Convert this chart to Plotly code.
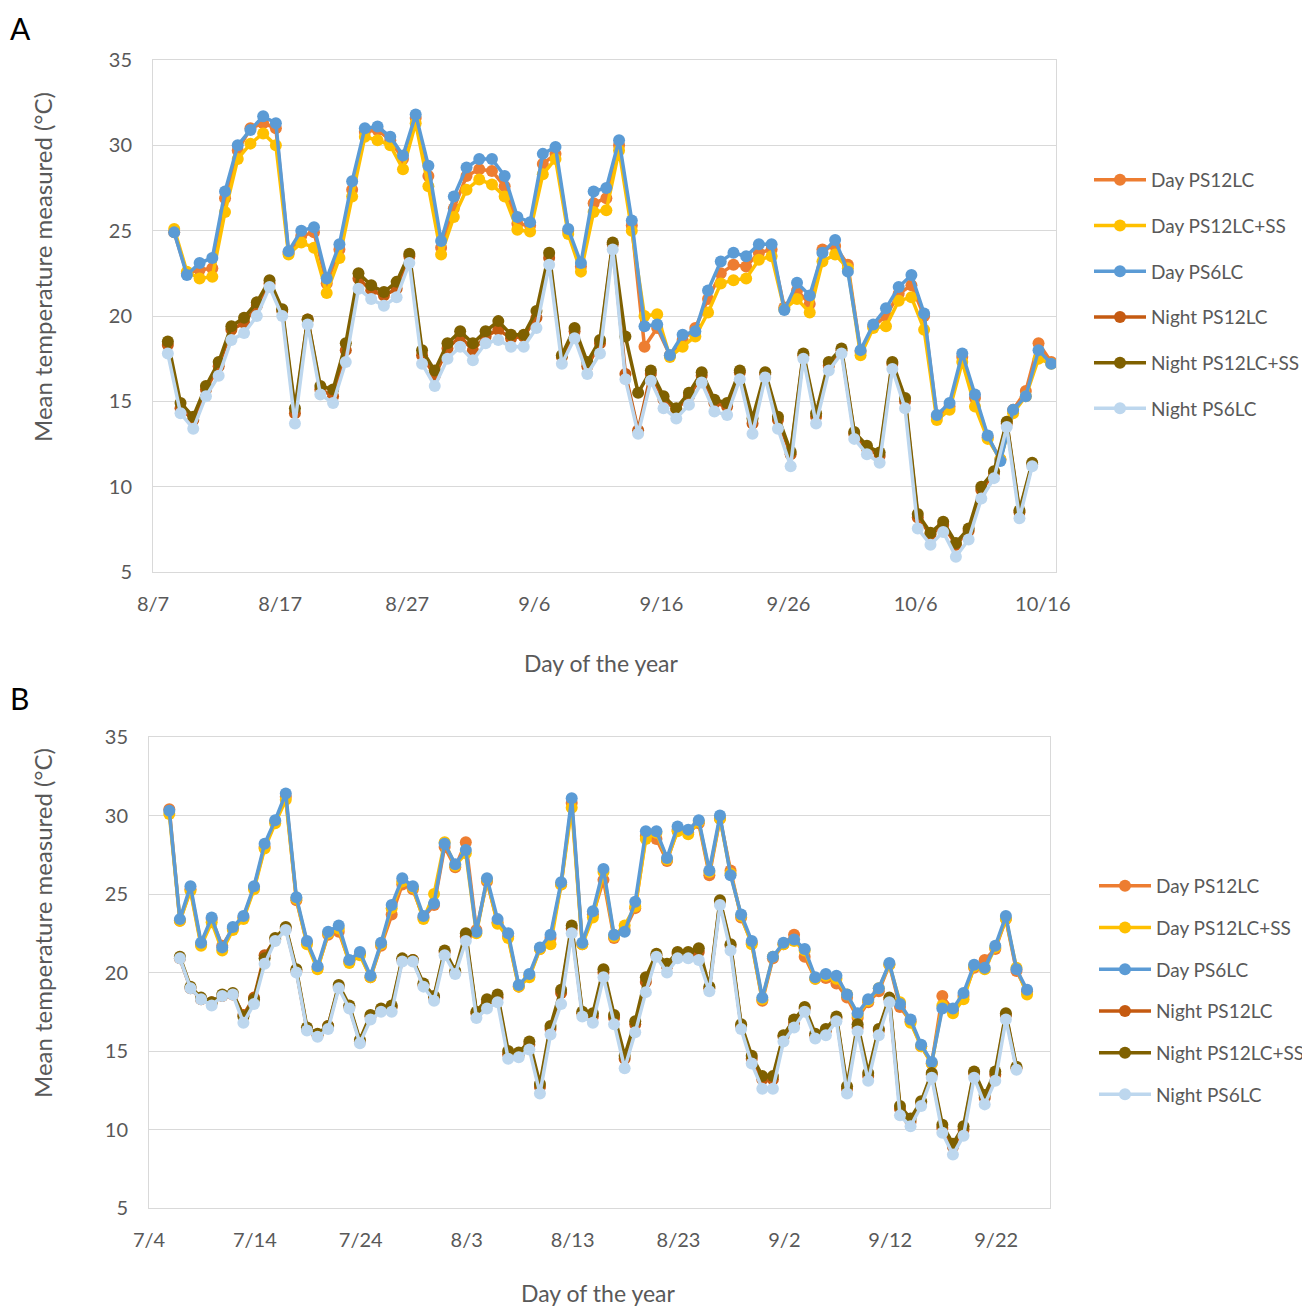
import pandas as pd
import plotly.graph_objects as go

# ---------------- Panel A data (8/7 - 10/16) ----------------
a_day_start = "2019-08-08 16:00"
a_night_start = "2019-08-08 04:00"

a_day_ps12lc = [24.9, 22.5, 22.7, 22.8, 26.9, 29.7, 31.0, 31.3, 31.0, 23.7,
                24.7, 24.9, 21.9, 23.9, 27.4, 30.8, 30.9, 30.3, 29.2, 31.6,
                28.2, 24.0, 26.3, 28.2, 28.6, 28.5, 27.6, 25.4, 25.3, 28.9,
                29.5, 25.0, 22.9, 26.6, 26.9, 30.0, 25.3, 18.2, 19.3, 17.7,
                18.6, 19.3, 21.0, 22.5, 23.0, 22.9, 23.7, 23.9, 20.5, 21.5,
                20.7, 23.9, 24.1, 23.0, 17.9, 19.4, 20.0, 21.3, 21.8, 20.0,
                14.1, 14.7, 17.6, 15.2, 12.9, 11.6, 14.5, 15.6, 18.4, 17.3]
a_day_ps12lc_ss = [25.1, 22.6, 22.2, 22.3, 26.1, 29.2, 30.1, 30.7, 30.0, 23.6,
                   24.3, 24.0, 21.35, 23.4, 27.0, 30.5, 30.3, 30.0, 28.6, 31.3,
                   27.6, 23.6, 25.8, 27.4, 28.0, 27.7, 27.0, 25.05, 24.95, 28.3,
                   29.2, 24.8, 22.6, 26.1, 26.2, 29.7, 25.0, 20.0, 20.1, 17.6,
                   18.2, 18.8, 20.2, 21.9, 22.1, 22.2, 23.3, 23.5, 20.4, 21.0,
                   20.2, 23.2, 23.6, 22.8, 17.7, 19.3, 19.4, 20.9, 21.1, 19.2,
                   13.9, 14.5, 17.3, 14.7, 12.8, 11.6, 14.3, 15.3, 17.5, 17.2]
a_day_ps6lc = [24.9, 22.4, 23.1, 23.4, 27.3, 30.0, 30.9, 31.7, 31.3, 23.8,
               25.0, 25.2, 22.2, 24.2, 27.9, 31.0, 31.1, 30.5, 29.4, 31.8,
               28.8, 24.4, 27.0, 28.7, 29.2, 29.2, 28.2, 25.8, 25.5, 29.5,
               29.9, 25.1, 23.1, 27.3, 27.5, 30.3, 25.6, 19.4, 19.5, 17.7,
               18.9, 19.1, 21.5, 23.2, 23.7, 23.5, 24.2, 24.2, 20.35, 21.95,
               21.2, 23.7, 24.45, 22.6, 18.0, 19.5, 20.45, 21.7, 22.4, 20.15,
               14.2, 14.9, 17.8, 15.4, 13.0, 11.5, 14.5, 15.3, 18.0, 17.2]
a_night_ps12lc = [18.3, 14.6, 13.9, 15.7, 17.05, 19.2, 19.6, 20.6, 21.9, 20.3,
                  14.3, 19.8, 15.7, 15.3, 18.0, 22.2, 21.5, 21.2, 21.6, 23.5,
                  17.7, 16.5, 18.1, 18.8, 18.0, 18.8, 19.2, 18.7, 18.8, 19.9,
                  23.4, 17.6, 19.1, 17.05, 18.4, 24.2, 16.6, 13.3, 16.6, 15.1,
                  14.5, 15.3, 16.5, 14.9, 14.7, 16.7, 13.7, 16.6, 13.9, 11.9,
                  17.7, 14.1, 17.1, 18.0, 13.1, 12.25, 11.8, 17.2, 15.0, 8.2,
                  7.2, 7.75, 6.6, 7.4, 9.8, 10.8, 13.7, 8.5, 11.3]
a_night_ps12lc_ss = [18.5, 14.9, 14.1, 15.9, 17.3, 19.4, 19.9, 20.8, 22.1, 20.4,
                     14.6, 19.8, 15.9, 15.7, 18.4, 22.5, 21.8, 21.4, 22.0, 23.65,
                     18.0, 16.8, 18.4, 19.1, 18.4, 19.1, 19.7, 18.9, 18.9, 20.3,
                     23.7, 17.7, 19.3, 17.3, 18.6, 24.3, 18.8, 15.5, 16.8, 15.3,
                     14.6, 15.5, 16.7, 15.1, 14.9, 16.8, 14.0, 16.7, 14.1, 12.05,
                     17.8, 14.3, 17.3, 18.1, 13.2, 12.4, 12.0, 17.3, 15.2, 8.4,
                     7.3, 7.95, 6.7, 7.55, 10.0, 10.9, 13.8, 8.6, 11.4]
a_night_ps6lc = [17.8, 14.3, 13.4, 15.3, 16.5, 18.6, 19.0, 20.0, 21.7, 20.0,
                 13.7, 19.5, 15.4, 14.9, 17.3, 21.6, 21.0, 20.6, 21.1, 23.1,
                 17.2, 15.9, 17.5, 18.2, 17.4, 18.4, 18.6, 18.2, 18.2, 19.3,
                 23.0, 17.2, 18.7, 16.6, 17.8, 23.9, 16.3, 13.1, 16.2, 14.6,
                 14.0, 14.8, 16.1, 14.4, 14.2, 16.3, 13.1, 16.4, 13.4, 11.2,
                 17.5, 13.7, 16.8, 17.8, 12.8, 11.9, 11.4, 16.9, 14.6, 7.55,
                 6.6, 7.35, 5.9, 6.9, 9.3, 10.5, 13.5, 8.15, 11.2]

# ---------------- Panel B data (7/4 - 9/26) ----------------
b_day_start = "2019-07-05 22:00"
b_night_start = "2019-07-06 22:00"

b_day_ps12lc = [30.4, 23.3, 25.3, 21.8, 23.4, 21.7, 22.8, 23.5, 25.4, 28.0,
                29.6, 31.2, 24.6, 21.9, 20.3, 22.4, 22.6, 20.7, 21.2, 19.7,
                21.7, 23.7, 25.6, 25.3, 23.5, 24.3, 28.0, 26.7, 28.3, 22.7,
                25.8, 23.2, 22.3, 19.1, 19.8, 21.5, 22.2, 25.6, 30.8, 21.8,
                23.7, 25.9, 22.2, 22.7, 24.1, 28.7, 28.5, 27.1, 29.1, 28.9,
                29.5, 26.2, 29.8, 26.5, 23.5, 21.9, 18.2, 20.9, 21.8, 22.4,
                21.0, 19.6, 19.65, 19.3, 18.4, 17.1, 18.1, 18.8, 20.5, 17.8,
                16.9, 15.3, 14.2, 18.5, 17.6, 18.5, 20.3, 20.8, 21.5, 23.4,
                20.1, 18.8]
b_day_ps12lc_ss = [30.1, 23.3, 25.2, 21.7, 23.2, 21.4, 22.7, 23.4, 25.3, 27.9,
                   29.5, 31.0, 24.7, 21.8, 20.2, 22.5, 22.8, 20.6, 21.1, 19.7,
                   21.8, 24.1, 25.8, 25.4, 23.4, 25.0, 28.3, 26.8, 27.6, 22.5,
                   25.9, 23.1, 22.2, 19.1, 19.7, 21.5, 21.8, 25.6, 30.5, 21.8,
                   23.5, 26.4, 22.3, 23.0, 24.2, 28.5, 28.9, 27.2, 29.0, 28.8,
                   29.6, 26.4, 29.8, 26.3, 23.6, 21.8, 18.3, 21.0, 21.8, 22.0,
                   21.4, 19.6, 19.8, 19.6, 18.6, 17.3, 18.2, 19.0, 20.5, 18.1,
                   16.8, 15.3, 14.2, 17.9, 17.4, 18.3, 20.4, 20.2, 21.6, 23.4,
                   20.3, 18.6]
b_day_ps6lc = [30.3, 23.4, 25.5, 21.9, 23.5, 21.6, 22.9, 23.6, 25.5, 28.2,
               29.7, 31.4, 24.8, 22.0, 20.4, 22.6, 23.0, 20.8, 21.3, 19.8,
               21.9, 24.3, 26.0, 25.5, 23.6, 24.4, 28.2, 26.9, 27.8, 22.6,
               26.0, 23.4, 22.5, 19.2, 19.9, 21.6, 22.4, 25.75, 31.1, 21.9,
               23.9, 26.6, 22.4, 22.6, 24.5, 29.0, 29.0, 27.3, 29.3, 29.1,
               29.7, 26.5, 30.0, 26.2, 23.7, 22.0, 18.4, 21.0, 21.9, 22.1,
               21.5, 19.7, 19.9, 19.8, 18.6, 17.4, 18.3, 19.0, 20.6, 18.0,
               17.0, 15.4, 14.3, 17.7, 17.7, 18.7, 20.5, 20.3, 21.7, 23.6,
               20.2, 18.9]
b_night_ps12lc = [20.9, 19.0, 18.3, 18.1, 18.5, 18.6, 17.3, 18.4, 21.1, 22.1,
                  22.8, 20.1, 16.4, 16.0, 16.6, 19.1, 17.8, 15.6, 17.2, 17.6,
                  17.8, 20.8, 20.8, 19.2, 18.4, 21.3, 20.0, 22.3, 17.4, 18.1,
                  18.4, 14.8, 14.8, 15.4, 12.7, 16.4, 18.7, 22.8, 17.4, 17.2,
                  20.0, 17.1, 14.5, 16.7, 19.4, 21.1, 20.4, 21.2, 21.1, 21.3,
                  19.0, 24.5, 21.7, 16.6, 14.5, 13.2, 13.2, 15.9, 16.8, 17.7,
                  16.0, 16.3, 17.1, 12.6, 16.5, 13.4, 16.3, 18.3, 11.3, 10.5,
                  11.7, 13.5, 10.1, 8.9, 10.0, 13.6, 12.0, 13.5, 17.3, 13.9]
b_night_ps12lc_ss = [21.0, 19.1, 18.4, 18.1, 18.6, 18.7, 17.2, 18.3, 20.9, 22.2,
                     22.9, 20.2, 16.5, 16.1, 16.6, 19.2, 17.9, 15.7, 17.3, 17.7,
                     17.9, 20.9, 20.8, 19.3, 18.5, 21.4, 20.1, 22.5, 17.5, 18.3,
                     18.6, 15.0, 14.9, 15.6, 12.9, 16.6, 18.9, 23.0, 17.5, 17.4,
                     20.2, 17.3, 14.7, 16.9, 19.7, 21.2, 20.55, 21.3, 21.3, 21.55,
                     19.1, 24.6, 21.8, 16.7, 14.7, 13.4, 13.4, 16.0, 17.0, 17.8,
                     16.1, 16.4, 17.2, 12.75, 16.7, 13.6, 16.4, 18.4, 11.5, 10.7,
                     11.8, 13.6, 10.3, 9.1, 10.2, 13.7, 12.2, 13.7, 17.4, 14.0]
b_night_ps6lc = [20.9, 19.0, 18.3, 17.9, 18.5, 18.6, 16.8, 18.0, 20.55, 22.0,
                 22.7, 20.0, 16.3, 15.9, 16.4, 19.0, 17.7, 15.5, 17.0, 17.5,
                 17.5, 20.7, 20.7, 19.1, 18.2, 21.1, 19.9, 22.0, 17.1, 17.7,
                 18.1, 14.5, 14.6, 15.1, 12.3, 16.05, 18.0, 22.5, 17.2, 16.8,
                 19.7, 16.7, 13.9, 16.2, 18.75, 21.0, 20.0, 20.9, 20.9, 20.8,
                 18.8, 24.3, 21.4, 16.4, 14.2, 12.6, 12.6, 15.6, 16.5, 17.5,
                 15.8, 16.0, 16.9, 12.3, 16.25, 13.1, 16.0, 18.1, 10.9, 10.2,
                 11.5, 13.3, 9.8, 8.4, 9.6, 13.3, 11.6, 13.1, 17.0, 13.8]

series_names = ["Day PS12LC", "Day PS12LC+SS", "Day PS6LC",
                "Night PS12LC", "Night PS12LC+SS", "Night PS6LC"]
series_colors = ["#ED7D31", "#FFC000", "#5B9BD5", "#C55A11", "#7F6000", "#BDD7EE"]

FONT = "Lato"
GRAY = "#595959"

fig = go.Figure()


def add_panel(day_lists, night_lists, day_start, night_start, xa, ya, legend):
    day_x = pd.date_range(day_start, periods=len(day_lists[0]), freq="D")
    night_x = pd.date_range(night_start, periods=len(night_lists[0]), freq="D")
    all_lists = list(day_lists) + list(night_lists)
    for i, (name, color, vals) in enumerate(zip(series_names, series_colors, all_lists)):
        xs = day_x if i < 3 else night_x
        fig.add_trace(go.Scatter(
            x=xs, y=vals, name=name, mode="lines+markers",
            line=dict(color=color, width=3.5),
            marker=dict(color=color, size=12),
            xaxis=xa, yaxis=ya, legend=legend, legendgroup=legend + name,
        ))


add_panel([a_day_ps12lc, a_day_ps12lc_ss, a_day_ps6lc],
          [a_night_ps12lc, a_night_ps12lc_ss, a_night_ps6lc],
          a_day_start, a_night_start, "x", "y", "legend")
add_panel([b_day_ps12lc, b_day_ps12lc_ss, b_day_ps6lc],
          [b_night_ps12lc, b_night_ps12lc_ss, b_night_ps6lc],
          b_day_start, b_night_start, "x2", "y2", "legend2")

# the page body adds an 8 px margin, so the figure is drawn 8 px smaller and
# every page-pixel position is converted with that offset
OFF = 8
W, H = 1310 - OFF, 1308 - OFF


def px_x(p):
    return (p - OFF) / W


def px_y(p):
    return 1 - (p - OFF) / H


xcommon = dict(type="date", dtick=10 * 86400000, tickformat="%-m/%-d",
               showgrid=False, zeroline=False, showline=True, mirror=True,
               linecolor="#D9D9D9", linewidth=1, ticks="", automargin=False,
               tickfont=dict(family=FONT, size=20, color=GRAY), ticklabelstandoff=14)
ycommon = dict(range=[5, 35], dtick=5, tick0=5, showgrid=True, gridcolor="#D9D9D9",
               gridwidth=1, zeroline=False, showline=True, mirror=True,
               linecolor="#D9D9D9", linewidth=1, ticks="", automargin=False,
               tickfont=dict(family=FONT, size=20, color=GRAY), ticklabelstandoff=16)

legcommon = dict(font=dict(family=FONT, size=19, color=GRAY), bgcolor="rgba(0,0,0,0)",
                 xanchor="left", yanchor="top", tracegroupgap=18, itemwidth=52)

fig.update_layout(
    width=W, height=H, margin=dict(l=0, r=0, t=0, b=0, autoexpand=False),
    paper_bgcolor="white", plot_bgcolor="white",
    font=dict(family=FONT, color=GRAY),
    xaxis=dict(xcommon, domain=[px_x(153), px_x(1056)], anchor="y",
               range=["2019-08-07", "2019-10-17 01:00"], tick0="2019-08-07"),
    yaxis=dict(ycommon, domain=[px_y(572), px_y(60)], anchor="x"),
    xaxis2=dict(xcommon, domain=[px_x(149), px_x(1050)], anchor="y2",
                range=["2019-07-04", "2019-09-27 02:00"], tick0="2019-07-04"),
    yaxis2=dict(ycommon, domain=[px_y(1208), px_y(737)], anchor="x2"),
    legend=dict(legcommon, x=px_x(1089), y=px_y(161)),
    legend2=dict(legcommon, x=px_x(1094), y=px_y(867), tracegroupgap=14),
    showlegend=True,
)

ann = [
    dict(text="A", x=0, y=1, yanchor="top", font=dict(size=30, color="black", family=FONT)),
    dict(text="B", x=0, y=px_y(698), font=dict(size=30, color="black", family=FONT)),
    dict(text="Mean temperature measured (°C)", x=px_x(42), y=px_y(267), textangle=-90,
         font=dict(size=24, color=GRAY, family=FONT), xanchor="center"),
    dict(text="Mean temperature measured (°C)", x=px_x(42), y=px_y(923), textangle=-90,
         font=dict(size=24, color=GRAY, family=FONT), xanchor="center"),
    dict(text="Day of the year", x=px_x(601), y=px_y(663),
         font=dict(size=23, color=GRAY, family=FONT), xanchor="center"),
    dict(text="Day of the year", x=px_x(598), y=px_y(1293),
         font=dict(size=23, color=GRAY, family=FONT), xanchor="center"),
]
for a in ann:
    a.setdefault("xanchor", "left")
    a.setdefault("yanchor", "middle")
    fig.add_annotation(xref="paper", yref="paper", showarrow=False, **a)

fig.write_html("out.html")
